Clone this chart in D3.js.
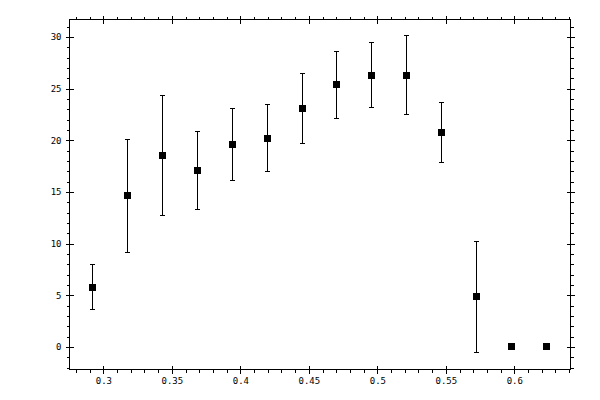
<!DOCTYPE html>
<html>
<head>
<meta charset="utf-8">
<script src="https://cdn.jsdelivr.net/npm/d3@7"></script>
<style>
  body { margin: 0; background: #fff; }
  svg { display: block; }
  .axis text { font-family: "DejaVu Sans Mono", monospace; font-size: 9px; fill: #000; }
  .axis line { stroke: #000; shape-rendering: crispEdges; }
  .axis .domain { display: none; }
</style>
</head>
<body>
<svg id="chart" width="600" height="400"></svg>
<script>
// measured points, y with asymmetric error bars
var xValues = [0.2920, 0.3175, 0.3431, 0.3686, 0.3942, 0.4197, 0.4453,
               0.4701, 0.4956, 0.5212, 0.5467, 0.5723, 0.5978, 0.6234];
var yValues = [5.78, 14.70, 18.57, 17.12, 19.64, 20.22, 23.12,
               25.45, 26.32, 26.32, 20.80, 4.84, 0, 0];
var yHigh = [7.94, 20.12, 24.38, 20.89, 23.12, 23.51, 26.51,
             28.64, 29.52, 30.19, 23.70, 10.22, null, null];
var yLow = [3.65, 9.17, 12.76, 13.34, 16.08, 17.02, 19.73,
            22.15, 23.22, 22.54, 17.89, -0.58, null, null];

var xMajor = [0.3, 0.35, 0.4, 0.45, 0.5, 0.55, 0.6];
var xLabels = ['0.3', '0.35', '0.4', '0.45', '0.5', '0.55', '0.6'];
var yMajor = [0, 5, 10, 15, 20, 25, 30];
var yLabels = ['0', '5', '10', '15', '20', '25', '30'];

// frame edges (window.top is reserved, so no plain "top")
var fLeft = 69.5, fRight = 570.5, fTop = 19.5, fBottom = 369.5;

var x = d3.scaleLinear().domain([0.2753, 0.6410]).range([fLeft, fRight]);
var y = d3.scaleLinear().domain([-2.18, 31.70]).range([fBottom, fTop]);

var xMinor = d3.range(28, 65).map(d => d / 100).filter(d => xMajor.indexOf(d) < 0);
var yMinor = d3.range(-2, 32).filter(d => d % 5 !== 0);

var svg = d3.select('#chart');
var g = svg.append('g');

function translate(a, b) {
    return 'translate(' + a + ',' + b + ')';
}

function fmt(list, labels) {
    return d => labels[list.indexOf(d)];
}

function addAxis(axisFn, scale, pos, isX) {
    var t = isX ? translate(0, pos) : translate(pos, 0);
    g.append('g').attr('class', 'axis').attr('transform', t)
        .call(axisFn(scale).tickValues(isX ? xMinor : yMinor).tickSize(3).tickFormat(''));
    g.append('g').attr('class', 'axis').attr('transform', t)
        .call(axisFn(scale).tickValues(isX ? xMajor : yMajor).tickSize(-4).tickFormat(''));
    return g.append('g').attr('class', 'axis').attr('transform', t);
}

// bottom, with labels
addAxis(d3.axisBottom, x, fBottom, true)
    .call(d3.axisBottom(x).tickValues(xMajor).tickSize(4).tickPadding(4)
        .tickFormat(fmt(xMajor, xLabels)));
// top
addAxis(d3.axisTop, x, fTop, true)
    .call(d3.axisTop(x).tickValues(xMajor).tickSize(4).tickFormat(''));
// left, with labels
addAxis(d3.axisLeft, y, fLeft, false)
    .call(d3.axisLeft(y).tickValues(yMajor).tickSize(4).tickPadding(4)
        .tickFormat(fmt(yMajor, yLabels)));
// right
addAxis(d3.axisRight, y, fRight, false)
    .call(d3.axisRight(y).tickValues(yMajor).tickSize(4).tickFormat(''));

// frame
g.append('rect')
    .attr('x', fLeft).attr('y', fTop)
    .attr('width', fRight - fLeft).attr('height', fBottom - fTop)
    .attr('fill', 'none').attr('stroke', '#000')
    .attr('shape-rendering', 'crispEdges');

var points = xValues.map((d, i) => ({ x: d, y: yValues[i], hi: yHigh[i], lo: yLow[i] }));
var bars = points.filter(d => d.hi !== null);
var cap = 2.5;

var eb = g.append('g').attr('stroke', '#000').attr('stroke-width', 1)
    .attr('shape-rendering', 'crispEdges');
eb.selectAll('line.v').data(bars).enter().append('line')
    .attr('class', 'v')
    .attr('x1', d => x(d.x)).attr('x2', d => x(d.x))
    .attr('y1', d => y(d.hi)).attr('y2', d => y(d.lo));
eb.selectAll('line.t').data(bars).enter().append('line')
    .attr('class', 't')
    .attr('x1', d => x(d.x) - cap).attr('x2', d => x(d.x) + cap)
    .attr('y1', d => y(d.hi)).attr('y2', d => y(d.hi));
eb.selectAll('line.b').data(bars).enter().append('line')
    .attr('class', 'b')
    .attr('x1', d => x(d.x) - cap).attr('x2', d => x(d.x) + cap)
    .attr('y1', d => y(d.lo)).attr('y2', d => y(d.lo));

var s = 7;
g.append('g').selectAll('rect').data(points).enter().append('rect')
    .attr('x', d => x(d.x) - s / 2)
    .attr('y', d => y(d.y) - s / 2)
    .attr('width', s).attr('height', s)
    .attr('fill', '#000')
    .attr('shape-rendering', 'crispEdges');
</script>
</body>
</html>
